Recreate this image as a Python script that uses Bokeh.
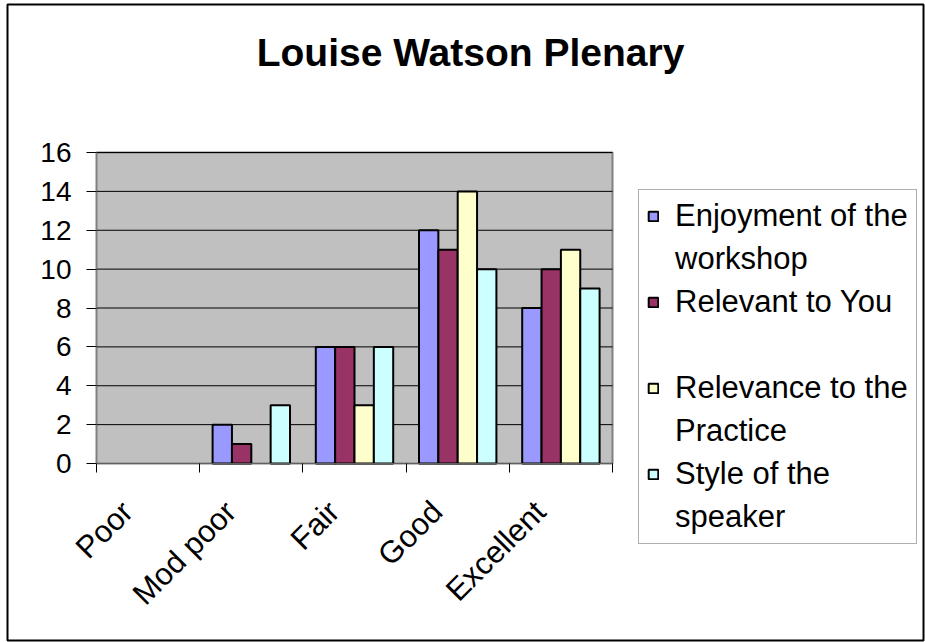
import math
from bokeh.plotting import figure
from bokeh.models import (ColumnDataSource, Range1d, FixedTicker, Legend, LegendItem,
                          LinearAxis, Label, CDSView, BooleanFilter)
from bokeh.transform import dodge
from bokeh.embed import file_html
from bokeh.resources import INLINE

categories = ["Poor", "Mod poor", "Fair", "Good", "Excellent"]
# legend labels, one list of text lines per series
series_labels = [["Enjoyment of the", "workshop"], ["Relevant to You", " "],
                 ["Relevance to the", "Practice"], ["Style of the", "speaker"]]
enjoyment = [0, 2, 6, 12, 8]
relevant_you = [0, 1, 6, 11, 10]
relevance_practice = [0, 0, 3, 14, 11]
style_speaker = [0, 3, 6, 10, 9]
y_ticks = [0, 2, 4, 6, 8, 10, 12, 14, 16]
colors = ["#9999FF", "#993366", "#FFFFCC", "#CCFFFF"]
title_text = "Louise Watson Plenary"

FONT = "Liberation Sans"
Y_MAX = 16
N = len(categories)

# plot-area in pixels: x 96..612, y 152..463 ; frame (outer border) 7..923, 4..640
px_per_x = (612 - 96) / N
px_per_y = (463 - 152) / Y_MAX
x_range = Range1d(-(96 - 7) / px_per_x, N + (923 - 612) / px_per_x)
y_range = Range1d(-(640 - 463) / px_per_y, Y_MAX + (152 - 4) / px_per_y)

xc = [i + 0.5 for i in range(N)]
series = [enjoyment, relevant_you, relevance_practice, style_speaker]
source = ColumnDataSource(dict(xc=xc, cat=categories,
                               s0=enjoyment, s1=relevant_you, s2=relevance_practice, s3=style_speaker))

p = figure(width=925, height=642, output_backend="svg", toolbar_location=None,
           x_range=x_range, y_range=y_range, x_axis_location=None, y_axis_location=None,
           min_border_left=7, min_border_right=2, min_border_top=4, min_border_bottom=2,
           tools="")
p.background_fill_color = "white"
p.border_fill_color = "white"
p.outline_line_color = "black"
p.outline_line_width = 2
p.xgrid.visible = False
p.ygrid.visible = False

# plot area
area = p.quad(left=[0], right=[N], bottom=[0], top=[Y_MAX], fill_color="#C0C0C0",
              line_color="#808080", line_width=2)
area.level = "image"

# horizontal gridlines limited to the plot area
p.segment(x0=[0] * len(y_ticks), x1=[N] * len(y_ticks), y0=y_ticks, y1=y_ticks,
          line_color="black", line_width=1)

bar_w = 0.1875
offsets = [-0.28125, -0.09375, 0.09375, 0.28125]
renderers = []
for k, col in enumerate(["s0", "s1", "s2", "s3"]):
    view = CDSView(filter=BooleanFilter([v > 0 for v in series[k]]))
    r = p.vbar(x=dodge("xc", offsets[k]), top=col, width=bar_w, bottom=0, source=source,
               view=view, fill_color=colors[k], line_color="black", line_width=2)
    renderers.append(r)

label_shift = -0.2
xa = LinearAxis(fixed_location=0, bounds=(0, N))
xa.ticker = FixedTicker(ticks=[x + label_shift for x in xc], minor_ticks=list(range(N + 1)))
xa.major_label_overrides = {x + label_shift: c for x, c in zip(xc, categories)}
xa.major_tick_line_color = None
xa.minor_tick_line_color = "black"
xa.minor_tick_out = 9
xa.minor_tick_in = 0
xa.axis_line_color = "#606060"
xa.axis_line_width = 1
xa.major_label_orientation = math.pi / 4
xa.major_label_text_font = FONT
xa.major_label_text_font_size = "31px"
xa.major_label_text_color = "black"
xa.major_label_standoff = 34
p.add_layout(xa, "below")

ya = LinearAxis(fixed_location=0, bounds=(0, Y_MAX))
ya.ticker = FixedTicker(ticks=y_ticks)
ya.major_tick_out = 10
ya.major_tick_in = 0
ya.minor_tick_line_color = None
ya.major_tick_line_color = "black"
ya.axis_line_color = "#808080"
ya.axis_line_width = 1
ya.major_label_text_font = FONT
ya.major_label_text_font_size = "28px"
ya.major_label_text_color = "black"
ya.major_label_standoff = 15
p.add_layout(ya, "left")

title = Label(x=(470 - 96) / px_per_x, y=(463 - 52) / px_per_y, text=title_text,
              text_font=FONT, text_font_size="39px", text_font_style="bold",
              text_color="black", text_align="center", text_baseline="middle")
p.add_layout(title)

items = []
for k in range(4):
    lines = series_labels[k]
    items.append(LegendItem(label=lines[0], renderers=[renderers[k]]))
    for extra in lines[1:]:
        items.append(LegendItem(label=extra, renderers=[]))
legend = Legend(items=items, location=(638 - 7, 640 - 544))
legend.label_text_font = FONT
legend.label_text_font_size = "31px"
legend.label_text_color = "black"
legend.label_height = 36
legend.glyph_width = 12
legend.glyph_height = 12
legend.label_standoff = 16
legend.spacing = 7
legend.padding = 8
legend.margin = 0
legend.border_line_color = "#606060"
legend.border_line_width = 1
legend.background_fill_color = "white"
legend.background_fill_alpha = 1
p.add_layout(legend, "center")

open("out.html", "w").write(file_html(p, INLINE))
